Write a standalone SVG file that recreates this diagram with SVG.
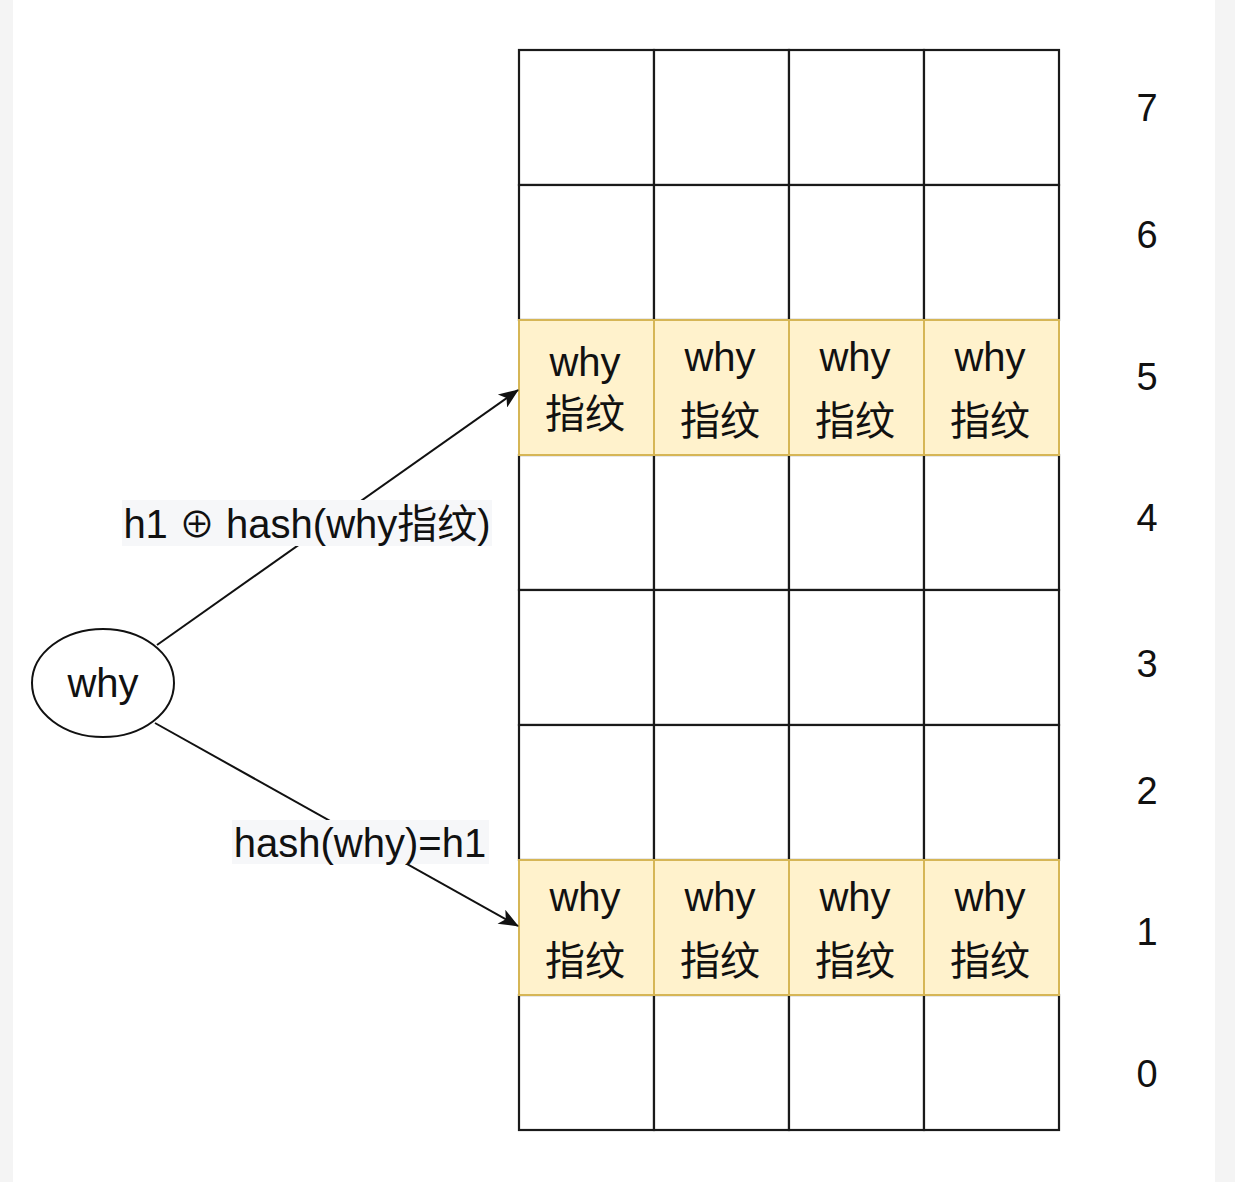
<svg xmlns="http://www.w3.org/2000/svg" width="1235" height="1182" viewBox="0 0 1235 1182">
<style>
.cell{fill:#ffffff;stroke:#1a1a1a;stroke-width:2.2}
.hl{fill:#fff2cc;stroke:#d6b656;stroke-width:2}
.t{font-family:"Liberation Sans","Noto Sans CJK SC",sans-serif;font-size:40px;fill:#111;text-anchor:middle}
.n{font-size:38px}
.edge{stroke:#111;stroke-width:2;fill:none}
.lbl{fill:#f6f7f9}
</style>
<defs>
<marker id="arrow" viewBox="0 0 20 16" refX="19" refY="8" markerWidth="22" markerHeight="16" markerUnits="userSpaceOnUse" orient="auto">
<path d="M0,0 L20,8 L0,16 L5,8 Z" fill="#111"/>
</marker>
</defs>
<rect x="0" y="0" width="1235" height="1182" fill="#ffffff"/>
<rect x="0" y="0" width="13" height="1182" fill="#f4f4f4"/>
<rect x="1215" y="0" width="20" height="1182" fill="#f4f4f4"/>

<g id="grid">
<g id="row7"><rect class="cell" x="519" y="50" width="135" height="135"/><rect class="cell" x="654" y="50" width="135" height="135"/><rect class="cell" x="789" y="50" width="135" height="135"/><rect class="cell" x="924" y="50" width="135" height="135"/></g>
<g id="row6"><rect class="cell" x="519" y="185" width="135" height="135"/><rect class="cell" x="654" y="185" width="135" height="135"/><rect class="cell" x="789" y="185" width="135" height="135"/><rect class="cell" x="924" y="185" width="135" height="135"/></g>
<g id="row4"><rect class="cell" x="519" y="455" width="135" height="135"/><rect class="cell" x="654" y="455" width="135" height="135"/><rect class="cell" x="789" y="455" width="135" height="135"/><rect class="cell" x="924" y="455" width="135" height="135"/></g>
<g id="row3"><rect class="cell" x="519" y="590" width="135" height="135"/><rect class="cell" x="654" y="590" width="135" height="135"/><rect class="cell" x="789" y="590" width="135" height="135"/><rect class="cell" x="924" y="590" width="135" height="135"/></g>
<g id="row2"><rect class="cell" x="519" y="725" width="135" height="135"/><rect class="cell" x="654" y="725" width="135" height="135"/><rect class="cell" x="789" y="725" width="135" height="135"/><rect class="cell" x="924" y="725" width="135" height="135"/></g>
<g id="row0"><rect class="cell" x="519" y="995" width="135" height="135"/><rect class="cell" x="654" y="995" width="135" height="135"/><rect class="cell" x="789" y="995" width="135" height="135"/><rect class="cell" x="924" y="995" width="135" height="135"/></g>
</g>

<g id="row5">
<g id="r5c0"><rect class="hl" x="519" y="320" width="135" height="135"/><text class="t" x="585" y="376">why</text><text class="t" x="585" y="428">指纹</text></g>
<g id="r5c1"><rect class="hl" x="654" y="320" width="135" height="135"/><text class="t" x="720" y="371">why</text><text class="t" x="720" y="435">指纹</text></g>
<g id="r5c2"><rect class="hl" x="789" y="320" width="135" height="135"/><text class="t" x="855" y="371">why</text><text class="t" x="855" y="435">指纹</text></g>
<g id="r5c3"><rect class="hl" x="924" y="320" width="135" height="135"/><text class="t" x="990" y="371">why</text><text class="t" x="990" y="435">指纹</text></g>
</g>
<g id="row1">
<g id="r1c0"><rect class="hl" x="519" y="860" width="135" height="135"/><text class="t" x="585" y="911">why</text><text class="t" x="585" y="975">指纹</text></g>
<g id="r1c1"><rect class="hl" x="654" y="860" width="135" height="135"/><text class="t" x="720" y="911">why</text><text class="t" x="720" y="975">指纹</text></g>
<g id="r1c2"><rect class="hl" x="789" y="860" width="135" height="135"/><text class="t" x="855" y="911">why</text><text class="t" x="855" y="975">指纹</text></g>
<g id="r1c3"><rect class="hl" x="924" y="860" width="135" height="135"/><text class="t" x="990" y="911">why</text><text class="t" x="990" y="975">指纹</text></g>
</g>

<g id="rowlabels">
<text class="t n" x="1147" y="121">7</text>
<text class="t n" x="1147" y="248">6</text>
<text class="t n" x="1147" y="390">5</text>
<text class="t n" x="1147" y="531">4</text>
<text class="t n" x="1147" y="677">3</text>
<text class="t n" x="1147" y="804">2</text>
<text class="t n" x="1147" y="945">1</text>
<text class="t n" x="1147" y="1087">0</text>
</g>

<g id="node-why">
<ellipse cx="103" cy="683" rx="71" ry="54" fill="#ffffff" stroke="#111" stroke-width="2"/>
<text class="t" x="103" y="697">why</text>
</g>

<g id="connectors">
<line class="edge" x1="157" y1="645" x2="518" y2="390" marker-end="url(#arrow)"/>
<line class="edge" x1="155" y1="723" x2="518" y2="926" marker-end="url(#arrow)"/>
<rect class="lbl" x="122" y="500" width="370" height="46"/>
<text class="t" x="307" y="538">h1 <tspan font-size="36">⊕</tspan> hash(why指纹)</text>
<rect class="lbl" x="232" y="820" width="257" height="44"/>
<text class="t" x="360" y="857">hash(why)=h1</text>
</g>
</svg>
